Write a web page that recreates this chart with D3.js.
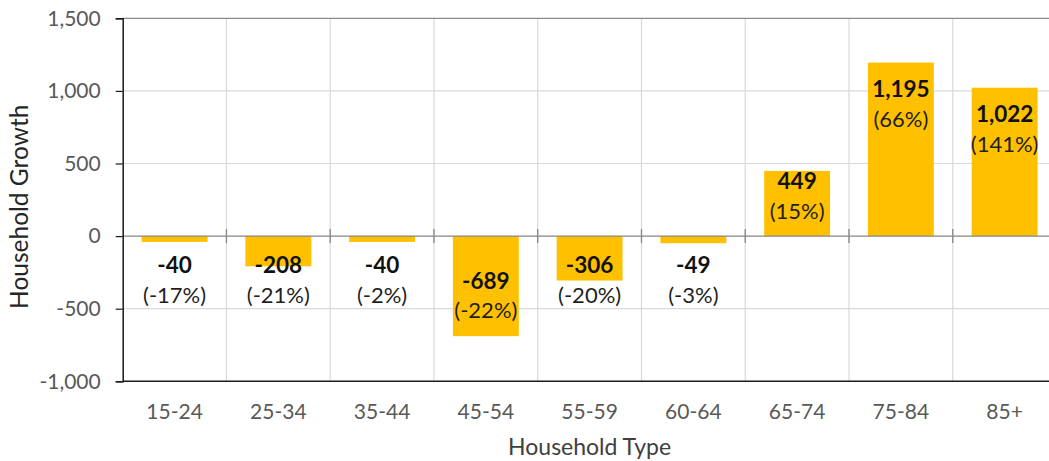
<!DOCTYPE html>
<html>
<head>
<meta charset="utf-8">
<script src="https://cdn.jsdelivr.net/npm/d3@7"></script>
<style>
  html, body { margin: 0; padding: 0; background: #fff; }
  svg { display: block; font-family: Lato, "Open Sans", sans-serif; }
</style>
</head>
<body>
<svg id="chart" width="1049" height="461"></svg>
<script>
// Household growth by age group of householder
const categories = ["15-24", "25-34", "35-44", "45-54", "55-59", "60-64", "65-74", "75-84", "85+"];
const growth = [-40, -208, -40, -689, -306, -49, 449, 1195, 1022];
const pctChange = [-17, -21, -2, -22, -20, -3, 15, 66, 141];
const yTicks = [-1000, -500, 0, 500, 1000, 1500];

const rows = categories.map((c, i) => ({ cat: c, value: growth[i], pct: pctChange[i] }));

const fmt = d3.formatLocale({ decimal: ".", thousands: ",", grouping: [3], currency: ["$", ""], minus: "-" }).format(",");

const svg = d3.select("#chart");
const plot = { left: 122.7, right: 1056.5, top: 18.3, bottom: 381.3 };

const x = d3.scaleBand()
  .domain(categories)
  .range([plot.left, plot.right])
  .paddingInner(0.365)
  .paddingOuter(0.1825);

const y = d3.scaleLinear()
  .domain([-1000, 1500])
  .range([plot.bottom, plot.top]);

const step = x.step();
const boundaries = d3.range(categories.length + 1).map(i => plot.left + i * step);
const y0 = y(0);

// horizontal gridlines
svg.append("g")
  .selectAll("line")
  .data(yTicks.filter(t => t !== 0 && t !== -1000 && t !== 1500))
  .join("line")
  .attr("x1", plot.left).attr("x2", plot.right)
  .attr("y1", d => y(d)).attr("y2", d => y(d))
  .attr("stroke", "#d9d9d9").attr("stroke-width", 1.2);

// vertical gridlines between categories
svg.append("g")
  .selectAll("line")
  .data(boundaries.slice(1))
  .join("line")
  .attr("x1", d => d).attr("x2", d => d)
  .attr("y1", plot.top).attr("y2", plot.bottom)
  .attr("stroke", "#d9d9d9").attr("stroke-width", 1.2);

// top border
svg.append("line")
  .attr("x1", plot.left).attr("x2", plot.right)
  .attr("y1", y(1500)).attr("y2", y(1500))
  .attr("stroke", "#8c8c8c").attr("stroke-width", 1.2);

// bars
svg.append("g")
  .selectAll("rect")
  .data(rows)
  .join("rect")
  .attr("x", d => x(d.cat))
  .attr("width", x.bandwidth())
  .attr("y", d => Math.min(y(d.value), y0))
  .attr("height", d => Math.abs(y(d.value) - y0))
  .attr("fill", "#ffc000");

// zero (category) axis with cross tick marks
svg.append("line")
  .attr("x1", plot.left).attr("x2", plot.right)
  .attr("y1", y0).attr("y2", y0)
  .attr("stroke", "#868686").attr("stroke-width", 1.3);
svg.append("g")
  .selectAll("line")
  .data(boundaries.slice(1))
  .join("line")
  .attr("x1", d => d).attr("x2", d => d)
  .attr("y1", y0 - 7).attr("y2", y0 + 7)
  .attr("stroke", "#868686").attr("stroke-width", 1.3);

// bottom border
svg.append("line")
  .attr("x1", plot.left).attr("x2", plot.right)
  .attr("y1", plot.bottom).attr("y2", plot.bottom)
  .attr("stroke", "#1a1a1a").attr("stroke-width", 1.5);

// value axis
const yAxis = d3.axisLeft(y)
  .tickValues(yTicks)
  .tickFormat(fmt)
  .tickSize(7)
  .tickPadding(15);
const gy = svg.append("g")
  .attr("transform", `translate(${plot.left},0)`)
  .call(yAxis);
gy.select(".domain").attr("stroke", "#1a1a1a").attr("stroke-width", 1.5);
gy.selectAll(".tick line").attr("stroke", "#1a1a1a").attr("stroke-width", 1.2);
gy.selectAll(".tick text")
  .attr("fill", "#595959")
  .style("font-size", "21px")
  .style("font-family", "Lato, sans-serif");

// category labels
svg.append("g")
  .selectAll("text")
  .data(categories)
  .join("text")
  .attr("x", d => x(d) + x.bandwidth() / 2)
  .attr("y", 419)
  .attr("text-anchor", "middle")
  .attr("fill", "#595959")
  .style("font-size", "21px")
  .text(d => d);

// data labels: value (bold) and percent change below it
const labelBase = d => {
  if (d.value >= 0) return Math.min(y(d.value) + 34.5, y0 - 47);
  return Math.max(y0 + 37, y(d.value) - 47.5);
};
const lbl = svg.append("g")
  .selectAll("g")
  .data(rows)
  .join("g")
  .attr("transform", d => `translate(${x(d.cat) + x.bandwidth() / 2},${labelBase(d)})`);
lbl.append("text")
  .attr("text-anchor", "middle")
  .attr("fill", "#111")
  .style("font-size", "22.5px")
  .style("font-weight", "bold")
  .text(d => fmt(d.value));
lbl.append("text")
  .attr("text-anchor", "middle")
  .attr("y", 29.5)
  .attr("fill", "#1f1f1f")
  .style("font-size", "22px")
  .text(d => `(${fmt(d.pct)}%)`);

// axis titles
svg.append("text")
  .attr("x", (plot.left + plot.right) / 2)
  .attr("y", 455)
  .attr("text-anchor", "middle")
  .attr("fill", "#404040")
  .style("font-size", "23px")
  .text("Household Type");

svg.append("text")
  .attr("transform", `translate(28,${(plot.top + plot.bottom) / 2 + 7}) rotate(-90)`)
  .attr("text-anchor", "middle")
  .attr("fill", "#262626")
  .style("font-size", "24.5px")
  .text("Household Growth");
</script>
</body>
</html>
